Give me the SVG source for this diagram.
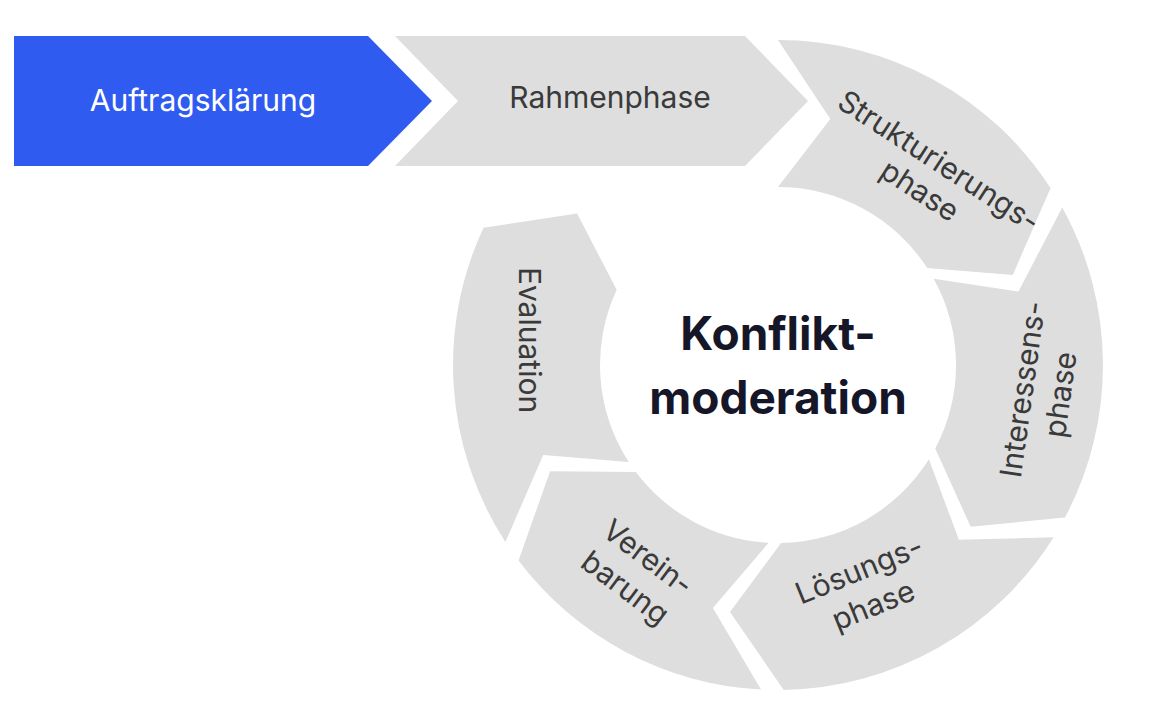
<svg xmlns="http://www.w3.org/2000/svg" width="1168" height="724" viewBox="0 0 1168 724">
<style>
.seg{fill:#dedede}
.lbl{font-family:Inter,"Liberation Sans",sans-serif;font-size:30px;fill:#3a3a3a;text-anchor:middle;dominant-baseline:central}
.ctr{font-family:Inter,"Liberation Sans",sans-serif;font-size:46px;font-weight:bold;fill:#161629;text-anchor:middle;dominant-baseline:central}
</style>
<rect width="1168" height="724" fill="#fff"/>
<g id="auftrag">
<polygon points="14,36 368,36 432,101 368,166 14,166" fill="#2f5bf0"/>
<text class="lbl" x="203" y="100" fill="#fff" style="fill:#fff">Auftragsklärung</text>
</g>
<g id="rahmen">
<polygon class="seg" points="395,36 745,36 808,101 745,166 395,166 458,101"/>
<text class="lbl" x="610" y="97">Rahmenphase</text>
</g>
<g id="struktur">
<path class="seg" d="M778,40 A325,325 0 0 1 1050.6,188 L1012.8,274.9 L927.3,268.1 A178,178 0 0 0 778,187 L830.3,119 Z"/>
<text class="lbl" transform="rotate(33 930 175)"><tspan x="930" y="158">Strukturierungs-</tspan><tspan x="930" y="193">phase</tspan></text>
</g>
<g id="interessen">
<path class="seg" d="M1062.2,207.4 A325,325 0 0 1 1064.9,517.6 L970.7,526.7 L935.2,448.6 A178,178 0 0 0 933.7,278.7 L1018.5,291.5 Z"/>
<text class="lbl" transform="rotate(-82 1042 392)"><tspan x="1042" y="372">Interessens-</tspan><tspan x="1042" y="410">phase</tspan></text>
</g>
<g id="loesung">
<path class="seg" d="M1053.6,537.2 A325,325 0 0 1 783.7,690 L730,611.9 L781.1,543 A178,178 0 0 0 928.9,459.3 L958.9,539.7 Z"/>
<text class="lbl" transform="rotate(-22 866 587)"><tspan x="866" y="568">Lösungs-</tspan><tspan x="866" y="606">phase</tspan></text>
</g>
<g id="verein">
<path class="seg" d="M761,689.5 A325,325 0 0 1 518.5,560.6 L550.1,471.3 L635.8,472.1 A178,178 0 0 0 768.7,542.8 L712.9,607.9 Z"/>
<text class="lbl" transform="rotate(37 637 572)"><tspan x="637" y="553">Verein-</tspan><tspan x="637" y="591">barung</tspan></text>
</g>
<g id="evaluation">
<path class="seg" d="M505.4,542 A325,325 0 0 1 483.5,227.7 L577.1,213.6 L616.7,289.8 A178,178 0 0 0 628.7,461.9 L543.2,455.1 Z"/>
<text class="lbl" transform="rotate(90 530 340)" x="530" y="340">Evaluation</text>
</g>
<g id="center">
<text class="ctr" x="778" y="333">Konflikt-</text>
<text class="ctr" x="778" y="397">moderation</text>
</g>
<g id="connectors"/>
</svg>
